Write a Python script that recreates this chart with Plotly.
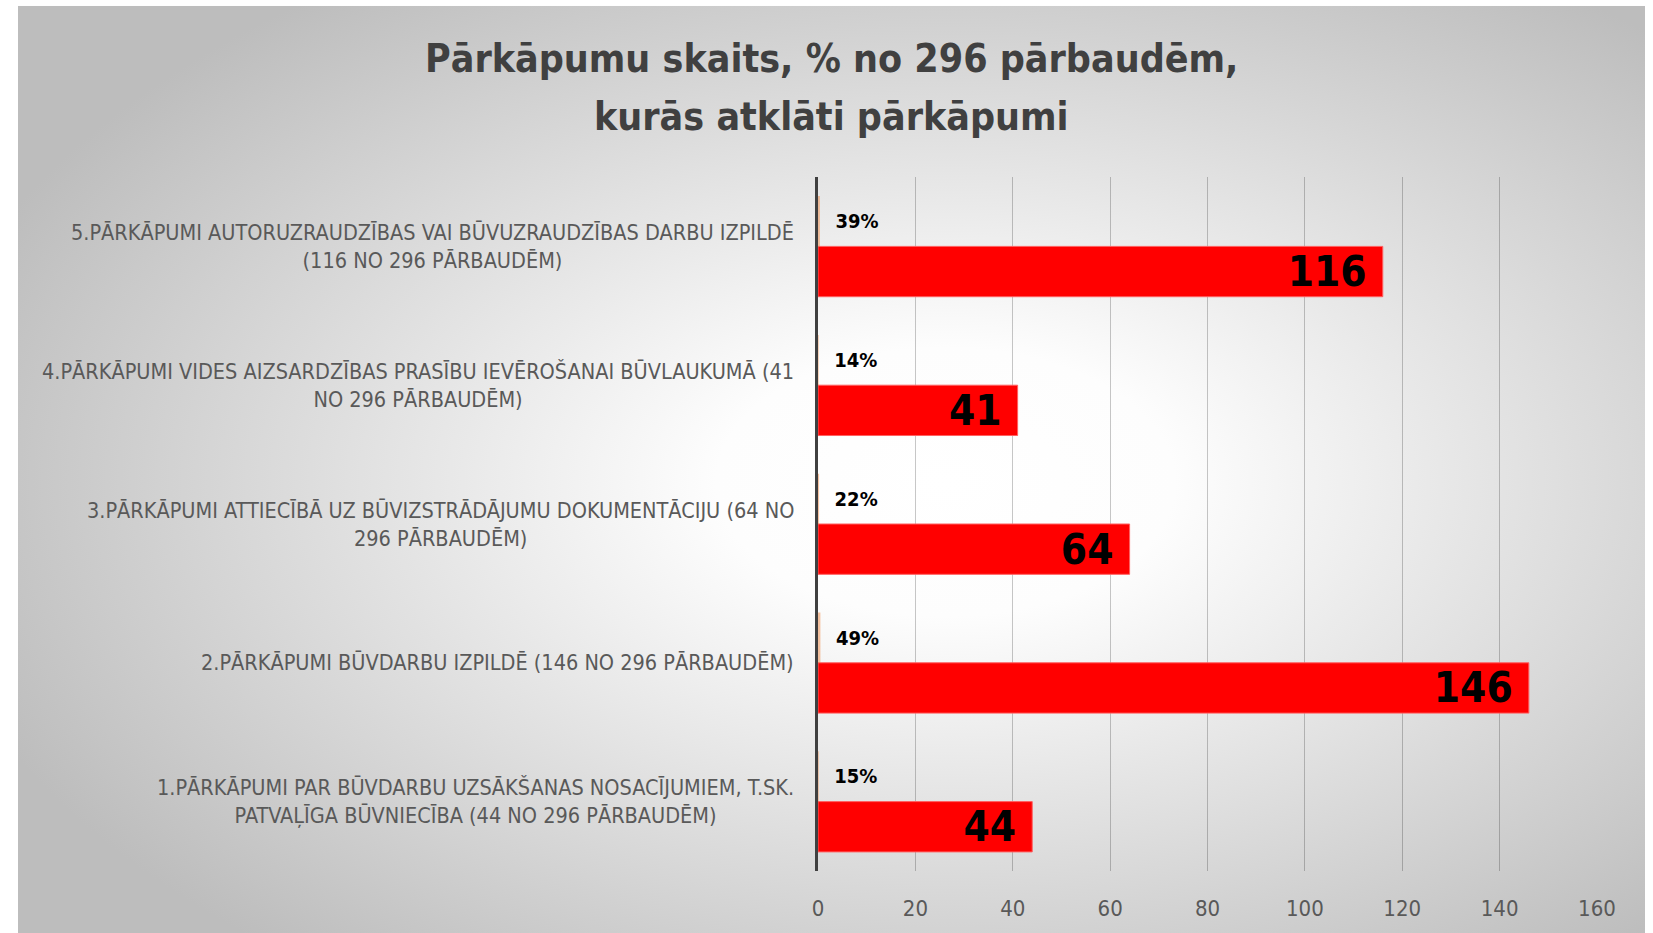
import base64
import plotly.graph_objects as go

# ---- data -------------------------------------------------------------
categories = [
    "1.PĀRKĀPUMI PAR BŪVDARBU UZSĀKŠANAS NOSACĪJUMIEM, T.SK.<br>PATVAĻĪGA BŪVNIECĪBA (44 NO 296 PĀRBAUDĒM)",
    "2.PĀRKĀPUMI BŪVDARBU IZPILDĒ (146 NO 296 PĀRBAUDĒM)",
    "3.PĀRKĀPUMI ATTIECĪBĀ UZ BŪVIZSTRĀDĀJUMU DOKUMENTĀCIJU (64 NO<br>296 PĀRBAUDĒM)",
    "4.PĀRKĀPUMI VIDES AIZSARDZĪBAS PRASĪBU IEVĒROŠANAI BŪVLAUKUMĀ (41<br>NO 296 PĀRBAUDĒM)",
    "5.PĀRKĀPUMI AUTORUZRAUDZĪBAS VAI BŪVUZRAUDZĪBAS DARBU IZPILDĒ<br>(116 NO 296 PĀRBAUDĒM)",
]
counts = [44, 146, 64, 41, 116]
shares = [0.15, 0.49, 0.22, 0.14, 0.39]
share_labels = ["15%", "49%", "22%", "14%", "39%"]
x_ticks = [0, 20, 40, 60, 80, 100, 120, 140, 160]
title_lines = ["Pārkāpumu skaits, % no 296 pārbaudēm,", "kurās atklāti pārkāpumi"]

# ---- layout constants --------------------------------------------------
W, H = 1653, 933
ML, MR, MT, MB = 818, 56, 177, 58
PW, PH = W - ML - MR, H - MT - MB
EXTRA = 30
FONT = "DejaVu Sans Condensed, Liberation Sans Narrow, sans-serif"

svg = f'''<svg xmlns="http://www.w3.org/2000/svg" width="{W}" height="{H + EXTRA}" viewBox="0 0 {W} {H + EXTRA}" preserveAspectRatio="none">
<defs><radialGradient id="g" cx="0.57" cy="0.5" r="0.64" gradientUnits="objectBoundingBox">
<stop offset="0" stop-color="#ffffff"/><stop offset="0.22" stop-color="#fdfdfd"/>
<stop offset="1" stop-color="#bdbdbd"/></radialGradient></defs>
<rect x="18" y="5" width="{W - 18 - 8}" height="{H + EXTRA - 5}" fill="url(#g)"/></svg>'''
bg_src = "data:image/svg+xml;base64," + base64.b64encode(svg.encode()).decode()

fig = go.Figure()
fig.add_trace(go.Bar(
    y=categories, x=counts, orientation="h",
    marker=dict(color="#ff0000", line=dict(color="#ff6060", width=1)),
    text=[str(v) for v in counts],
    texttemplate="%{text}\u00a0",
    textposition="inside", insidetextanchor="end", constraintext="none",
    textfont=dict(family=FONT, size=42, color="#000000", weight="bold"),
    hoverinfo="skip", showlegend=False,
))
fig.add_trace(go.Bar(
    y=categories, x=shares, orientation="h",
    marker=dict(color="rgba(237,125,49,0.45)", line=dict(width=0)),
    text=share_labels,
    texttemplate="\u00a0\u00a0%{text}",
    textposition="outside", cliponaxis=False, constraintext="none",
    textfont=dict(family=FONT, size=20, color="#000000", weight="bold"),
    hoverinfo="skip", showlegend=False,
))

annotations = [
    dict(x=0, xref="paper", y=c, yref="y", xanchor="right", xshift=-22,
         text=c, align="center", showarrow=False,
         font=dict(family=FONT, size=21.5, color="#595959"))
    for c in categories
]
for line, ypx in zip(title_lines, [58, 116]):
    annotations.append(dict(
        x=(831 - ML) / PW, xref="paper", y=1 + (MT - ypx) / PH, yref="paper",
        xanchor="center", yanchor="middle", text=line, showarrow=False,
        font=dict(family=FONT, size=39, color="#404040", weight="bold")))

fig.update_layout(
    width=W, height=H,
    margin=dict(l=ML, r=MR, t=MT, b=MB, pad=0),
    paper_bgcolor="#ffffff", plot_bgcolor="rgba(0,0,0,0)",
    barmode="group", bargap=0.275, bargroupgap=0,
    xaxis=dict(range=[0, 160], tickvals=x_ticks, showgrid=True,
               gridcolor="rgba(0,0,0,0.22)", gridwidth=1, zeroline=False,
               showline=False, ticks="", ticklabelstandoff=22,
               tickfont=dict(family=FONT, size=22, color="#595959")),
    yaxis=dict(type="category", categoryorder="array", categoryarray=categories,
               showticklabels=False, ticks="", showgrid=False, zeroline=False,
               showline=True, linecolor="#404040", linewidth=3),
    annotations=annotations,
    images=[dict(source=bg_src, xref="paper", yref="paper",
                 x=-ML / PW, y=1 + MT / PH, sizex=W / PW, sizey=(H + EXTRA) / PH,
                 xanchor="left", yanchor="top", sizing="stretch", layer="below")],
)

fig.write_html(
    "out.html",
    config={"displayModeBar": False},
    post_script="document.body.style.margin='0';document.body.style.overflow='hidden';",
)
